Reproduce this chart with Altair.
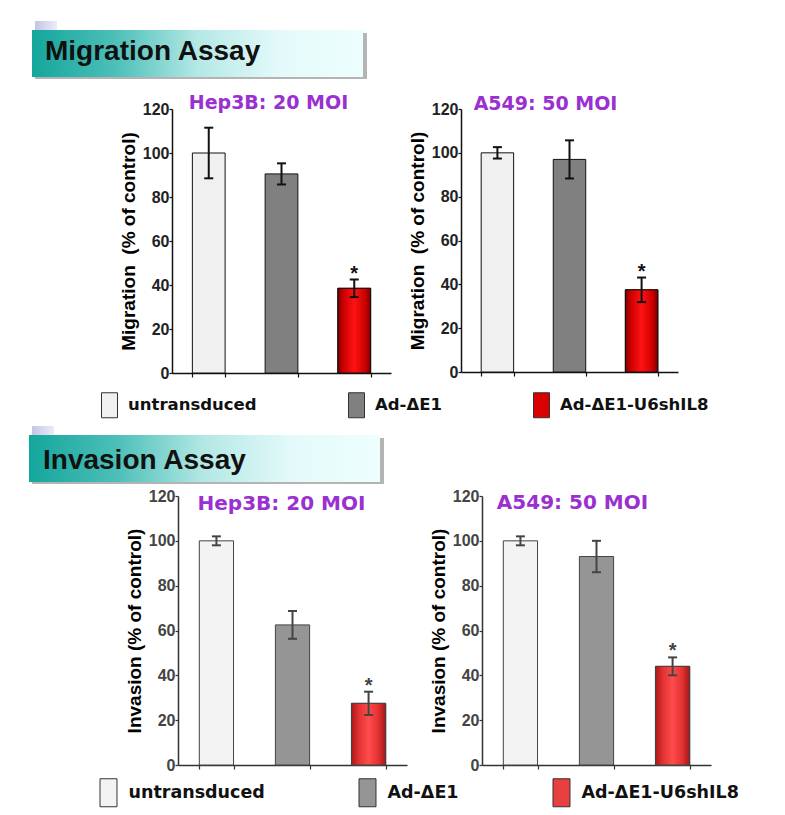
import altair as alt
import pandas as pd

# ---------------- data ----------------
groups = ["untransduced", "Ad-ΔE1", "Ad-ΔE1-U6shIL8"]
sig_marks = ["", "", "*"]

mig_hep3b_mean = [100.0, 90.5, 38.5]
mig_hep3b_err = [11.5, 4.8, 4.0]
mig_a549_mean = [100.0, 97.0, 37.5]
mig_a549_err = [2.6, 8.7, 5.6]
inv_hep3b_mean = [100.0, 62.5, 27.5]
inv_hep3b_err = [2.0, 6.2, 5.2]
inv_a549_mean = [100.0, 93.0, 44.0]
inv_a549_err = [2.0, 7.0, 4.0]

y_ticks = [0, 20, 40, 60, 80, 100, 120]
panel_titles = ["Hep3B: 20 MOI", "A549: 50 MOI"]
section_titles = ["Migration Assay", "Invasion Assay"]
y_titles = ["Migration\u00a0 (% of control)", "Invasion (% of control)"]

# ---------------- styles ----------------
PURPLE = "#9b30d0"
LAV = {"gradient": "linear", "x1": 0, "x2": 1, "y1": 0, "y2": 0,
       "stops": [{"offset": 0, "color": "#c4c4e4"}, {"offset": 1, "color": "#ececf8"}]}
TEAL = {"gradient": "linear", "x1": 0, "x2": 1, "y1": 0, "y2": 0,
        "stops": [{"offset": 0, "color": "#14a69c"},
                  {"offset": 0.25, "color": "#4cbfb8"},
                  {"offset": 0.5, "color": "#b4e8e5"},
                  {"offset": 0.75, "color": "#e4fafa"},
                  {"offset": 1, "color": "#eefefe"}]}

top_style = {
    "fills": ["#f0f0f0", "#808080", "#d80000"],
    "stroke": "#111111", "err": "#111111", "axis": "#111111", "label": "#222222",
    "grad": {"gradient": "linear", "x1": 0, "x2": 1, "y1": 0, "y2": 0,
             "stops": [{"offset": 0, "color": "#7a0000"},
                       {"offset": 0.15, "color": "#c80000"},
                       {"offset": 0.5, "color": "#ff1212"},
                       {"offset": 0.85, "color": "#c80000"},
                       {"offset": 1, "color": "#780000"}]},
}
bottom_style = {
    "fills": ["#f3f3f3", "#959595", "#e84040"],
    "stroke": "#444444", "err": "#444444", "axis": "#333333", "label": "#444444",
    "grad": {"gradient": "linear", "x1": 0, "x2": 1, "y1": 0, "y2": 0,
             "stops": [{"offset": 0, "color": "#a81818"},
                       {"offset": 0.2, "color": "#e03030"},
                       {"offset": 0.5, "color": "#ff4c4c"},
                       {"offset": 0.8, "color": "#e03030"},
                       {"offset": 1, "color": "#a01818"}]},
}


def panel(means, errs, title, ytitle, width, height, style,
          title_size, title_offset, title_dx):
    df = pd.DataFrame({"group": groups, "mean": means, "err": errs, "sig": sig_marks})
    df["lo"] = df["mean"] - df["err"]
    df["hi"] = df["mean"] + df["err"]
    xs = alt.Scale(domain=groups, paddingInner=0.55, paddingOuter=0.28)
    xa = alt.Axis(title=None, labels=False, domainColor=style["axis"], domainWidth=1.5,
                  tickColor=style["axis"], tickSize=4, tickWidth=1.2, tickBand="extent",
                  grid=False)
    x = alt.X("group:N", sort=groups, scale=xs, axis=xa)
    ys = alt.Scale(domain=[0, 120], nice=False, zero=True)
    ya = alt.Axis(title=ytitle, values=y_ticks, grid=False,
                  labelFont="Liberation Sans", labelFontSize=16, labelFontWeight="bold",
                  labelColor=style["label"], labelPadding=0,
                  tickSize=3, tickColor=style["axis"], tickWidth=1.2,
                  domainColor=style["axis"], domainWidth=1.5,
                  titleFont="Liberation Sans", titleFontSize=19, titleFontWeight="bold",
                  titleColor="#000000", titlePadding=4)

    def Y(field):
        return alt.Y(f"{field}:Q", scale=ys, axis=ya)

    base = alt.Chart(df)
    bars = base.mark_bar(stroke=style["stroke"], strokeWidth=1).encode(
        x=x, y=Y("mean"),
        color=alt.Color("group:N", scale=alt.Scale(domain=groups, range=style["fills"]),
                        legend=None))
    red = base.transform_filter(alt.datum.group == groups[2]).mark_bar(
        stroke=style["stroke"], strokeWidth=1, fill=style["grad"]).encode(x=x, y=Y("mean"))
    rule = base.mark_rule(color=style["err"], strokeWidth=2).encode(
        x=x, y=Y("lo"), y2="hi:Q")
    cap_lo = base.mark_tick(orient="horizontal", size=9, thickness=2,
                            color=style["err"], opacity=1).encode(x=x, y=Y("lo"))
    cap_hi = base.mark_tick(orient="horizontal", size=9, thickness=2,
                            color=style["err"], opacity=1).encode(x=x, y=Y("hi"))
    star = base.mark_text(font="Liberation Sans", fontSize=20, fontWeight="bold",
                          baseline="alphabetic", dy=0, color=style["err"]).encode(
        x=x, y=Y("hi"), text="sig:N")
    return alt.layer(bars, red, rule, cap_lo, cap_hi, star).properties(
        width=width, height=height,
        title=alt.TitleParams(text=title, font="DejaVu Sans", fontSize=title_size,
                              fontWeight="bold", color=PURPLE, anchor="middle",
                              frame="group", offset=title_offset, dx=title_dx))


def header(text, width, height, bx, by, bw, bh, tx, ty):
    df = pd.DataFrame({"label": [text]})
    base = alt.Chart(df)
    tag = base.mark_rect(fill=LAV).encode(
        x=alt.value(bx + 3), x2=alt.value(bx + 25), y=alt.value(by - 9), y2=alt.value(by))
    shadow = base.mark_rect(fill="#b4b4b4").encode(
        x=alt.value(bx + 3), x2=alt.value(bx + bw + 4), y=alt.value(by + 3),
        y2=alt.value(by + bh + 2))
    box = base.mark_rect(fill=TEAL).encode(
        x=alt.value(bx), x2=alt.value(bx + bw), y=alt.value(by), y2=alt.value(by + bh))
    label = base.mark_text(align="left", baseline="alphabetic", font="Liberation Sans",
                           fontSize=28, fontWeight="bold", color="#111111").encode(
        x=alt.value(tx), y=alt.value(ty), text="label:N")
    return alt.layer(tag, shadow, box, label).properties(width=width, height=height)


def legend_row(fills, width, height, lx, ly, font_size, sym, col_pad):
    df = pd.DataFrame({"group": groups})
    hw = sym[0] / sym[1]
    path = f"M{-hw:.3f},-1L{hw:.3f},-1L{hw:.3f},1L{-hw:.3f},1Z"
    return alt.Chart(df).mark_square(filled=True, size=0, opacity=1).encode(
        color=alt.Color("group:N", sort=groups,
                        scale=alt.Scale(domain=groups, range=fills),
                        legend=alt.Legend(
                            title=None, orient="none", legendX=lx, legendY=ly,
                            direction="horizontal", symbolType=path,
                            symbolSize=sym[1] ** 2, symbolStrokeColor="#333333",
                            symbolStrokeWidth=1, symbolOpacity=1,
                            labelFont="DejaVu Sans", labelFontSize=font_size,
                            labelFontWeight="bold", labelColor="#111111",
                            labelOffset=5.5, columnPadding=col_pad, padding=0,
                            labelLimit=300))
    ).properties(width=width, height=height)


def spacer(w):
    return alt.Chart(pd.DataFrame({"v": [0]})).mark_point(size=0, opacity=0).properties(
        width=w, height=10)


header1 = header(section_titles[0], 380, 86, 24, 22, 331, 47, 37, 52)
p1 = panel(mig_hep3b_mean, mig_hep3b_err, panel_titles[0], y_titles[0], 219, 264,
           top_style, 19, -12, -13)
p2 = panel(mig_a549_mean, mig_a549_err, panel_titles[1], y_titles[0], 217, 263,
           top_style, 19, -13, -24)
row1 = alt.hconcat(spacer(94), p1, p2, spacing=17)
legend1 = legend_row(top_style["fills"], 700, 40, 88.5, 11, 16.5, (16, 25), 86)

header2 = header(section_titles[1], 380, 67, 21, 14, 351, 47, 35, 48)
p3 = panel(inv_hep3b_mean, inv_hep3b_err, panel_titles[0], y_titles[1], 229, 269,
           bottom_style, 20, -26, -11)
p4 = panel(inv_a549_mean, inv_a549_err, panel_titles[1], y_titles[1], 229, 269,
           bottom_style, 20, -25, -24)
row2 = alt.hconcat(spacer(95), p3, p4, spacing=22)
legend2 = legend_row(bottom_style["fills"], 700, 30, 86, 5, 17.5, (17, 28), 88)

chart = alt.vconcat(header1, row1, legend1, header2, row2, legend2, spacing=0).resolve_scale(
    color="independent"
).properties(padding=0).configure(
    font="Liberation Sans", view=alt.ViewConfig(stroke=None)
)

chart.save("out.html", embed_options={"renderer": "svg", "actions": False})
